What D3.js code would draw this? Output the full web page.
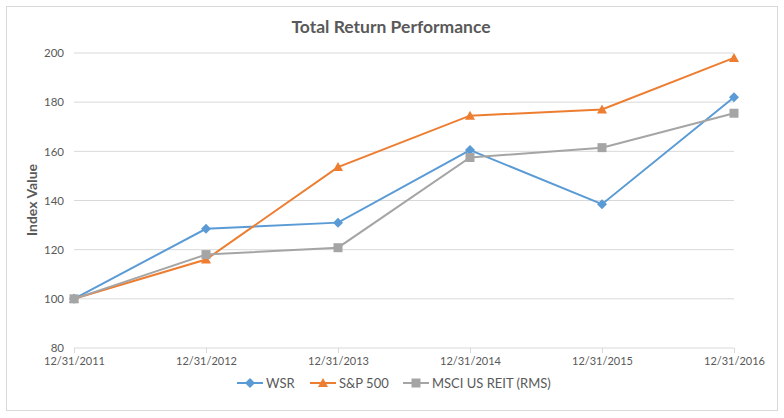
<!DOCTYPE html>
<html><head><meta charset="utf-8">
<script src="https://cdn.jsdelivr.net/npm/d3@7"></script>
<style>body{margin:0;background:#fff;}svg{display:block;font-family:Lato,"Open Sans",sans-serif;}</style>
</head><body><svg id="c" width="784" height="418"></svg>
<script>
const dates = ["12/31/2011","12/31/2012","12/31/2013","12/31/2014","12/31/2015","12/31/2016"];
const wsr = [100, 128.5, 131, 160.5, 138.5, 182];
const sp500 = [100, 116, 153.6, 174.5, 177, 198];
const msci = [100, 118, 120.8, 157.5, 161.5, 175.5];
const yTicks = [80, 100, 120, 140, 160, 180, 200];
const seriesNames = ["WSR", "S&P 500", "MSCI US REIT (RMS)"];
const colors = ["#5b9bd5", "#ed7d31", "#a5a5a5"];

const diamond = "M0,-5L5,0L0,5L-5,0Z";
const triangle = "M0,-5L5,4L-5,4Z";
const square = "M-4.5,-4.5H4.5V4.5H-4.5Z";
const shapes = [diamond, triangle, square];

const svg = d3.select("#c");
svg.append("rect").attr("x",6.5).attr("y",6.5).attr("width",771).attr("height",404)
  .attr("fill","#fff").attr("stroke","#d9d9d9");

const x = d3.scalePoint().domain(dates).range([74, 734]);
const y = d3.scaleLinear().domain([80, 200]).range([348, 53]);

svg.append("g").selectAll("line").data(yTicks.filter(t=>t>80)).join("line")
  .attr("x1",74).attr("x2",734).attr("y1",d=>y(d)).attr("y2",d=>y(d))
  .attr("stroke","#d9d9d9").attr("stroke-width",1);

const ya = svg.append("g").attr("transform","translate(74,0)")
  .call(d3.axisLeft(y).tickValues(yTicks).tickSize(0).tickPadding(10));
ya.select(".domain").remove();
ya.selectAll("text").attr("fill","#595959").style("font-size","11.5px").style("font-family","Lato,sans-serif");

const xa = svg.append("g").attr("transform",`translate(0,${y(80)})`)
  .call(d3.axisBottom(x).tickSize(5).tickPadding(4));
xa.select(".domain").attr("stroke","#d9d9d9").attr("d","M74,0H734");
xa.selectAll(".tick line").attr("stroke","#d9d9d9");
xa.selectAll("text").attr("fill","#595959").style("font-size","11px").style("font-family","Lato,sans-serif");

svg.append("text").attr("x",391).attr("y",33).attr("text-anchor","middle")
  .attr("fill","#595959").style("font-size","17.5px").style("font-weight","bold").text("Total Return Performance");

svg.append("text").attr("transform","translate(37,200) rotate(-90)").attr("text-anchor","middle")
  .attr("fill","#595959").style("font-size","14px").style("font-weight","bold").text("Index Value");

const all = [wsr, sp500, msci];
const line = d3.line().x((d,i)=>x(dates[i])).y(d=>y(d));
all.forEach((vals, si) => {
  const g = svg.append("g");
  g.append("path").datum(vals).attr("d", line).attr("fill","none")
    .attr("stroke", colors[si]).attr("stroke-width", 2);
  g.selectAll("path.m").data(vals).join("path").attr("class","m")
    .attr("transform",(d,i)=>`translate(${x(dates[i])},${y(d)})`)
    .attr("d", shapes[si]).attr("fill", colors[si]);
});

const legX = [237, 310, 403];
const lg = svg.append("g");
seriesNames.forEach((n, i) => {
  const g = lg.append("g").attr("transform",`translate(${legX[i]},383)`);
  g.append("line").attr("x1",0).attr("x2",26).attr("stroke",colors[i]).attr("stroke-width",2);
  g.append("path").attr("transform","translate(13,0)").attr("d", shapes[i]).attr("fill",colors[i]);
  g.append("text").attr("x",29).attr("y",4.5).attr("fill","#595959").style("font-size","13px").text(n);
});
</script></body></html>
